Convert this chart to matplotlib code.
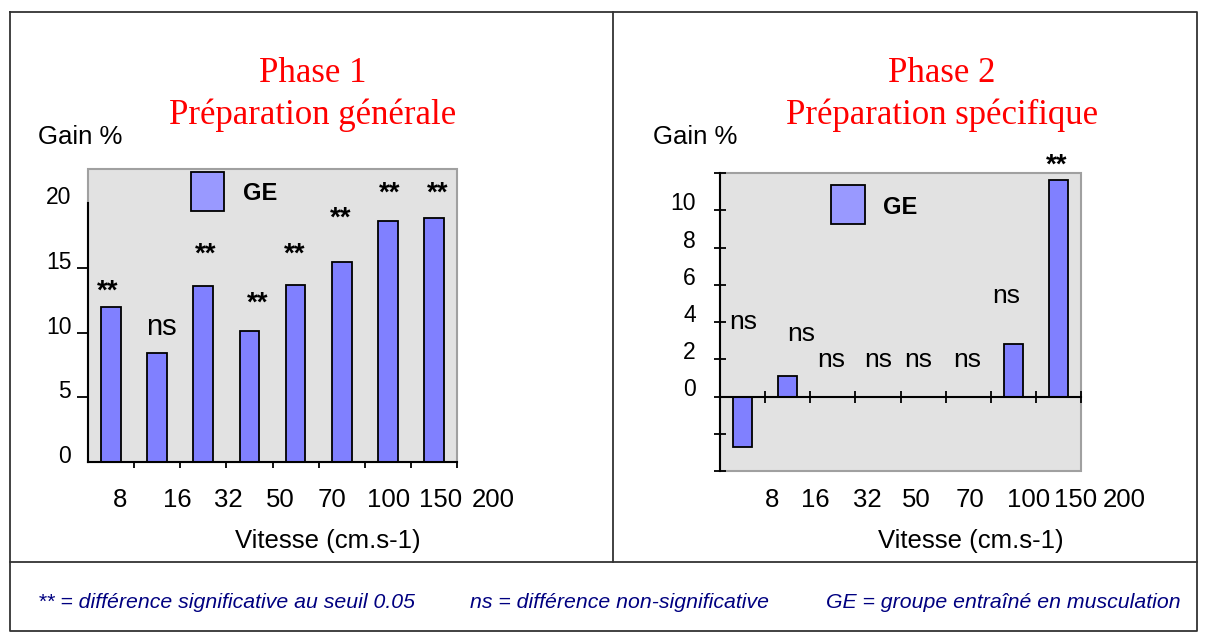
import matplotlib
matplotlib.use('Agg')
import matplotlib.pyplot as plt
from matplotlib.patches import Rectangle
from matplotlib.lines import Line2D
from matplotlib.transforms import blended_transform_factory, ScaledTranslation
import numpy as np

# data
speeds = ['8', '16', '32', '50', '70', '100', '150', '200']
gain_phase1 = [12.0, 8.4, 13.6, 10.1, 13.7, 15.5, 18.6, 18.9]
gain_phase2 = [-2.7, 1.1, 0.0, 0.0, 0.0, 0.0, 2.8, 11.6]
signif_phase1 = ['**', 'ns', '**', '**', '**', '**', '**', '**']
signif_phase2 = ['ns', 'ns', 'ns', 'ns', 'ns', 'ns', 'ns', '**']
group = 'GE'
phases = ['Phase 1', 'Phase 2']
subtitles = ['Préparation générale', 'Préparation spécifique']
notes = ['** = différence significative au seuil 0.05',
         'ns = différence non-significative',
         'GE = groupe entraîné en musculation']

# text placement (data coords), tuned to the reference
sig1_x = [-0.07, 1.1, 2.06, 3.17, 3.99, 4.97, 6.03, 7.09]
sig1_y = [12.6, 9.8, 15.5, 11.7, 15.5, 18.3, 20.2, 20.2]
sig2_x = [0.01, 1.3, 1.96, 3.0, 3.89, 4.98, 5.84, 6.97]
sig2_y = [3.6, 2.96, 1.6, 1.6, 1.6, 1.6, 5.0, 12.0]
xlab1_x = [0.19, 1.43, 2.54, 3.66, 4.79, 6.01, 7.14, 8.29]
xlab2_x = [0.65, 1.61, 2.76, 3.85, 5.04, 6.33, 7.39, 8.46]

W, H = 1207, 635
fig = plt.figure(figsize=(W / 100, H / 100), dpi=100)
plt.rcParams['font.family'] = ['Liberation Sans', 'DejaVu Sans']


def fx(px):
    return px / W


def fy(py):
    return 1 - py / H


bar_color = '#8080ff'
leg_color = '#9999ff'
bg = '#e2e2e2'
x = np.arange(len(speeds))


def panel(box, values, ylim, sig, sig_x, sig_y, ns_size, xlab_x, leg_box, ge_pos):
    l, t, r, b = box
    ax = fig.add_axes([fx(l), fy(b), fx(r) - fx(l), fy(t) - fy(b)])
    ax.set_facecolor(bg)
    ax.patch.set_edgecolor('#a0a0a0')
    ax.patch.set_linewidth(1.5)
    ax.bar(x, values, width=0.43, color=bar_color, edgecolor='black', linewidth=1.3, zorder=3)
    ax.set_xlim(-0.5, 7.5)
    ax.set_ylim(*ylim)
    ax.spines['top'].set_visible(False)
    ax.spines['right'].set_visible(False)
    for s in ['left', 'bottom']:
        ax.spines[s].set_linewidth(1.5)
        ax.spines[s].set_zorder(4)
    ax.set_xticks(x + 0.5)
    ax.set_xticklabels([])
    for lab, xx, yy in zip(sig, sig_x, sig_y):
        if lab == '**':
            ax.text(xx, yy, lab, ha='center', va='baseline', fontsize=20,
                    fontweight='bold', zorder=5, clip_on=False)
        else:
            ax.text(xx, yy, lab, ha='center', va='baseline', fontsize=ns_size,
                    zorder=5, clip_on=False)
    trans = blended_transform_factory(ax.transData, fig.transFigure)
    for lab, xx in zip(speeds, xlab_x):
        ax.text(xx, fy(500), lab, transform=trans, ha='center', va='center', fontsize=18.5)
    # legend
    ax.add_patch(Rectangle((leg_box[0], leg_box[1]), leg_box[2], leg_box[3], transform=ax.transAxes,
                           facecolor=leg_color, edgecolor='black', linewidth=1.3, zorder=5))
    ax.text(ge_pos[0], ge_pos[1], group, transform=ax.transAxes, ha='left', va='center',
            fontsize=17, fontweight='bold', zorder=5)
    return ax


ax1 = panel((88, 169, 457, 462), gain_phase1, (0, 22.66), signif_phase1, sig1_x, sig1_y, 21, xlab1_x,
            (0.279, 0.857, 0.09, 0.133), (0.42, 0.918))
ax1.spines['left'].set_bounds(0, 20)
ax1.set_yticks([0, 5, 10, 15, 20])
ax1.tick_params(axis='y', direction='out', length=8, width=1.3, pad=4, labelsize=16.5)
ax1.tick_params(axis='x', direction='out', length=4.5, width=1.3)
yt = ax1.yaxis.get_major_ticks()
yt[0].tick1line.set_visible(False)
yt[-1].tick1line.set_visible(False)
for lab in ax1.get_yticklabels():
    lab.set_transform(lab.get_transform() + ScaledTranslation(0, 8 / 100, fig.dpi_scale_trans))

ax2 = panel((720, 173, 1081, 471), gain_phase2, (-4, 12), signif_phase2, sig2_x, sig2_y, 19, xlab2_x,
            (0.307, 0.829, 0.095, 0.131), (0.452, 0.883))
ax2.spines['bottom'].set_position(('data', 0))
ax2.set_yticks(np.arange(-4, 13, 2))
ax2.set_yticklabels(['', '', '0', '2', '4', '6', '8', '10', ''])
ax2.tick_params(axis='y', direction='inout', length=9, width=1.3, pad=13, labelsize=16.5)
ax2.tick_params(axis='x', direction='inout', length=9, width=1.3)
for lab in ax2.get_yticklabels():
    lab.set_transform(lab.get_transform() + ScaledTranslation(0, 9 / 100, fig.dpi_scale_trans))

# axis titles
fig.text(fx(328), fy(541), 'Vitesse (cm.s-1)', ha='center', va='center', fontsize=18.5)
fig.text(fx(971), fy(541), 'Vitesse (cm.s-1)', ha='center', va='center', fontsize=18.5)
fig.text(fx(38), fy(137), 'Gain %', ha='left', va='center', fontsize=18.5)
fig.text(fx(653), fy(137), 'Gain %', ha='left', va='center', fontsize=18.5)

# titles
for ph, sub, cx in zip(phases, subtitles, [313, 942]):
    fig.text(fx(cx), fy(73), ph, ha='center', va='center', color='#ff0000',
             fontsize=25, family='Liberation Serif')
    fig.text(fx(cx), fy(115), sub, ha='center', va='center', color='#ff0000',
             fontsize=25, family='Liberation Serif')

# footnotes
for note, px in zip(notes, [38, 470, 826]):
    fig.text(fx(px), fy(602), note, ha='left', va='center', fontsize=15.3,
             style='italic', color='#000080')

# frame
frame_kw = dict(color='#333333', linewidth=1.3, transform=fig.transFigure)
fig.add_artist(Line2D([fx(10), fx(1197), fx(1197), fx(10), fx(10)],
                      [fy(12), fy(12), fy(631), fy(631), fy(12)], **frame_kw))
fig.add_artist(Line2D([fx(10), fx(1197)], [fy(562), fy(562)], **frame_kw))
fig.add_artist(Line2D([fx(613), fx(613)], [fy(12), fy(562)], **frame_kw))

fig.savefig('out.png', dpi=100)
